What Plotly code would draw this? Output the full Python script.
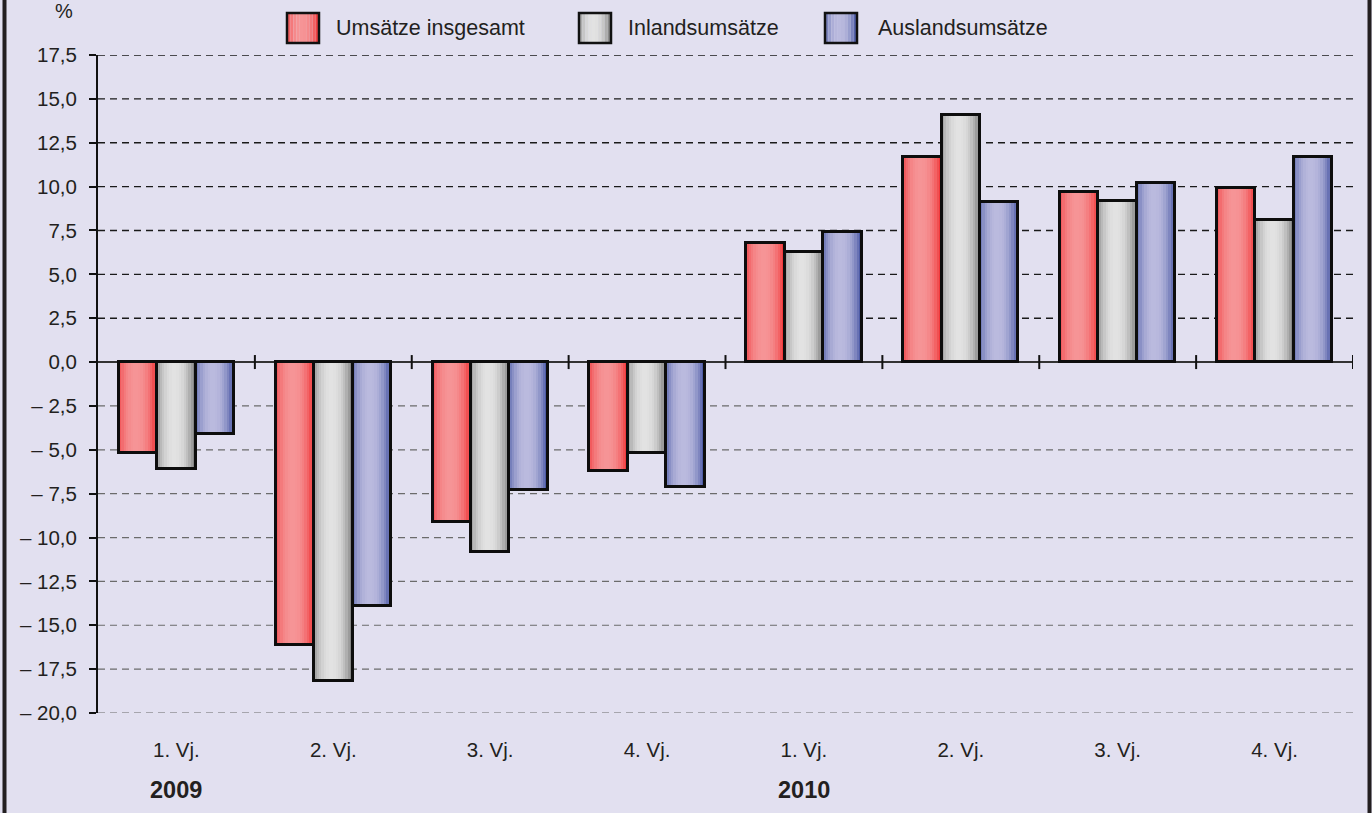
import plotly.graph_objects as go

# ---- data ----
quarters = ["1. Vj.", "2. Vj.", "3. Vj.", "4. Vj.", "1. Vj.", "2. Vj.", "3. Vj.", "4. Vj."]
years = ["2009", "2010"]
year_pos = [0, 4]
series_names = ["Umsätze insgesamt", "Inlandsumsätze", "Auslandsumsätze"]
umsaetze_insgesamt = [-5.2, -16.1, -9.1, -6.2, 6.8, 11.7, 9.7, 9.9]
inlandsumsaetze = [-6.1, -18.2, -10.8, -5.2, 6.3, 14.1, 9.2, 8.1]
auslandsumsaetze = [-4.1, -13.9, -7.3, -7.1, 7.4, 9.1, 10.2, 11.7]
y_ticks = [-20.0, -17.5, -15.0, -12.5, -10.0, -7.5, -5.0, -2.5, 0.0, 2.5, 5.0, 7.5, 10.0, 12.5, 15.0, 17.5]

# ---- styles ----
FONT = "Liberation Sans, Arial, Helvetica, sans-serif"
TXT = "#231F20"
BG = "#E2E0F0"
edge_center = [
    ((239, 45, 48), (246, 148, 150)),
    ((120, 120, 120), (226, 226, 226)),
    ((62, 78, 158), (186, 186, 222)),
]
N_STRIPES = 16
BAR_W = 0.245
offsets = [-1.5 * BAR_W, -0.5 * BAR_W, 0.5 * BAR_W]


def grad_color(edge, center, t):
    d = abs(t - 0.45) / 0.55
    f = max(0.0, 1 - d ** 2.2)
    c = [round(e + (m - e) * f) for e, m in zip(edge, center)]
    return "rgb(%d,%d,%d)" % tuple(c)


x_pos = list(range(len(quarters)))
fig = go.Figure()
all_series = [umsaetze_insgesamt, inlandsumsaetze, auslandsumsaetze]
for s, vals in enumerate(all_series):
    edge, center = edge_center[s]
    sw = BAR_W / N_STRIPES
    for i in range(N_STRIPES):
        t = (i + 0.5) / N_STRIPES
        fig.add_trace(go.Bar(
            x=x_pos, y=vals, width=sw, offset=offsets[s] + i * sw,
            marker=dict(color=grad_color(edge, center, t), line=dict(width=0)),
            showlegend=False, hoverinfo="skip", name=series_names[s]))
    fig.add_trace(go.Bar(
        x=x_pos, y=vals, width=BAR_W, offset=offsets[s], name=series_names[s],
        marker=dict(color="rgba(0,0,0,0)", line=dict(color="#0d0d0d", width=3)),
        showlegend=False))

shapes = []
# gridlines
for v in y_ticks:
    if v == 0:
        continue
    shapes.append(dict(type="line", xref="paper", x0=0, x1=1, yref="y", y0=v, y1=v,
                       line=dict(color="#1a1a1a" if v > 0 else "#6b6b6b",
                                 width=1.4 if v > 0 else 1.2, dash="7px,5px"),
                       layer="below"))
# zero line
shapes.append(dict(type="line", xref="paper", x0=0, x1=1, yref="y", y0=0, y1=0,
                   line=dict(color="#333333", width=2), layer="below"))
# category boundary ticks on zero line
for k in range(len(quarters)):
    shapes.append(dict(type="line", xref="x", x0=k + 0.5, x1=k + 0.5, yref="y",
                       ysizemode="pixel", yanchor=0, y0=-7, y1=7,
                       line=dict(color="#111111", width=2)))
# outer side borders
W, H = 1372, 813
ML, MR, MT, MB = 98, 19, 55, 100
pw, ph = W - ML - MR, H - MT - MB


def px_x(px):
    return (px - ML) / pw


def px_y(py):
    return (H - MB - py) / ph


for bx in (4.5, 1369.5):
    shapes.append(dict(type="line", xref="paper", yref="paper",
                       x0=px_x(bx), x1=px_x(bx), y0=px_y(-5), y1=px_y(H + 5),
                       line=dict(color="#231F20", width=4)))

# custom legend
legend_box_x = [287, 579, 825]
legend_text_x = [334, 626, 876]
annotations = []
LEG_N = 10
for s in range(3):
    edge, center = edge_center[s]
    x0 = legend_box_x[s]
    wbox = 32
    for i in range(LEG_N):
        t = (i + 0.5) / LEG_N
        shapes.append(dict(type="rect", xref="paper", yref="paper",
                           x0=px_x(x0 + i * wbox / LEG_N), x1=px_x(x0 + (i + 1) * wbox / LEG_N),
                           y0=px_y(43), y1=px_y(13),
                           line=dict(width=0), fillcolor=grad_color(edge, center, t)))
    shapes.append(dict(type="rect", xref="paper", yref="paper",
                       x0=px_x(x0), x1=px_x(x0 + wbox), y0=px_y(43), y1=px_y(13),
                       line=dict(color="#111111", width=2.5), fillcolor="rgba(0,0,0,0)"))
    annotations.append(dict(text=series_names[s], xref="paper", yref="paper",
                            x=px_x(legend_text_x[s]), y=px_y(28), xanchor="left", yanchor="middle",
                            showarrow=False, font=dict(family=FONT, size=21.5, color=TXT)))

for yr, p in zip(years, year_pos):
    annotations.append(dict(text="<b>%s</b>" % yr, xref="x", yref="paper", x=p, y=px_y(790),
                            xanchor="center", yanchor="middle", showarrow=False,
                            font=dict(family=FONT, size=23.5, color=TXT)))
annotations.append(dict(text="%", xref="paper", yref="paper", x=px_x(64), y=px_y(11),
                        xanchor="center", yanchor="middle", showarrow=False,
                        font=dict(family=FONT, size=20, color=TXT)))


def fmt(v):
    s = ("%.1f" % abs(v)).replace(".", ",")
    return ("\u2013 " + s) if v < 0 else s


fig.update_layout(
    width=W, height=H, margin=dict(l=ML, r=MR, t=MT, b=MB, autoexpand=False),
    paper_bgcolor=BG, plot_bgcolor=BG, barmode="overlay", bargap=0,
    showlegend=False, shapes=shapes, annotations=annotations,
    font=dict(family=FONT, size=20, color=TXT),
    xaxis=dict(range=[-0.5, 7.5], tickvals=x_pos, ticktext=quarters, showgrid=False,
               zeroline=False, showline=False, ticks="", ticklabelstandoff=22,
               tickfont=dict(family=FONT, size=20.5, color=TXT), fixedrange=True),
    yaxis=dict(range=[-20, 17.5], tickvals=y_ticks, ticktext=[fmt(v) for v in y_ticks],
               showgrid=False, zeroline=False, showline=True, linecolor="#111111", linewidth=2,
               ticks="outside", ticklen=7, tickwidth=2, tickcolor="#111111",
               ticklabelstandoff=8, tickfont=dict(family=FONT, size=20.5, color=TXT),
               fixedrange=True),
)

fig.write_html("out.html", config={"displayModeBar": False},
               post_script="document.body.style.margin='0';document.body.style.overflow='hidden';")
